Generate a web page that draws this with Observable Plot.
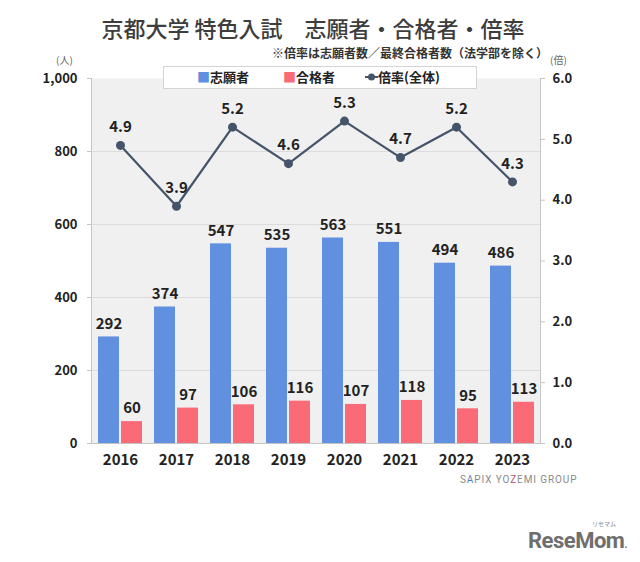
<!DOCTYPE html>
<html><head><meta charset="utf-8">
<script src="https://cdn.jsdelivr.net/npm/d3@7"></script>
<script src="https://cdn.jsdelivr.net/npm/@observablehq/plot@0.6"></script>
<style>
body{margin:0;background:#fff;font-family:"Noto Sans CJK JP","Noto Sans",sans-serif}
#wrap{position:relative;width:640px;height:562px;overflow:hidden}
.abs{position:absolute;white-space:nowrap;line-height:1}
#chart{position:absolute;left:0;top:0}
</style></head><body><div id="wrap">
<div id="chart"></div>
<div class="abs" style="left:0;width:626px;top:16px;text-align:center;font-size:22px;font-weight:500;color:#3d3d3d">京都大学 特色入試　志願者・合格者・倍率</div>
<div class="abs" style="right:92px;top:47px;font-size:12px;font-weight:bold;color:#333">※倍率は志願者数／最終合格者数（法学部を除く）</div>
<div class="abs" style="left:56px;top:55px;font-size:10px;color:#666">(人)</div>
<div class="abs" style="left:550px;top:55px;font-size:10px;color:#666">(倍)</div>
<div class="abs" style="left:163px;top:66px;width:312px;height:21px;background:#fff;border:1px solid #d4d4d4"></div>
<div class="abs" style="left:197px;top:70px;font-size:13px;font-weight:bold;color:#222"><span style="color:#6190e0">■</span>志願者</div>
<div class="abs" style="left:283px;top:70px;font-size:13px;font-weight:bold;color:#222"><span style="color:#fb6a77">■</span>合格者</div>
<div class="abs" style="left:365px;top:70px;font-size:13px;font-weight:bold;color:#222"><svg width="13" height="10" style="vertical-align:0px"><line x1="0" y1="5" x2="13" y2="5" stroke="#44546a" stroke-width="2"/><circle cx="6.5" cy="5" r="3.5" fill="#44546a"/></svg>倍率(全体)</div>
<div class="abs" style="left:460px;top:475px;font-size:10px;letter-spacing:0.9px;color:#8a8a8a;font-family:Roboto,sans-serif">S<span style="color:#5a7fc0">A</span>PIX YO<span style="color:#c0506a">Z</span>EMI GROUP</div>
<div class="abs" style="left:592px;top:521px;font-size:6px;color:#888">リセマム</div>
<div class="abs" style="left:528px;top:530px;font-size:22px;font-weight:bold;letter-spacing:-0.5px;color:#6e6e6e;font-family:Roboto,sans-serif">ReseMom<span style="font-size:10px">.</span></div>
</div>
<script>
const years = ["2016","2017","2018","2019","2020","2021","2022","2023"];
const applicants = [292, 374, 547, 535, 563, 551, 494, 486];
const passers = [60, 97, 106, 116, 107, 118, 95, 113];
const ratio = [4.9, 3.9, 5.2, 4.6, 5.3, 4.7, 5.2, 4.3];
const leftTicks = [0, 200, 400, 600, 800, 1000];
const gridTicks = [200, 400, 600, 800];
const rightTicks = [0, 1, 2, 3, 4, 5, 6];
const yMax = 1000, ratioMax = 6;
const k = yMax / ratioMax;

const rows = years.map((y, i) => ({year: y, app: applicants[i], pas: passers[i], ratio: ratio[i]}));

const blue = "#6190e0", red = "#fb6a77", navy = "#44546a", axisGray = "#c4c4c4";

const chart = Plot.plot({
  width: 640,
  height: 562,
  marginLeft: 91,
  marginRight: 100,
  marginTop: 78,
  marginBottom: 119,
  style: {fontFamily: '"Noto Sans CJK JP", sans-serif', background: "transparent", color: "#222"},
  x: {type: "band", domain: years, padding: 0, label: null},
  y: {domain: [0, yMax], label: null},
  marks: [
    Plot.frame({fill: "#f0f0f0", stroke: null}),
    Plot.gridY(gridTicks, {stroke: "#dcdcdc", strokeOpacity: 1}),
    Plot.barY(rows, {x: "year", y: "app", fill: blue, insetLeft: 6, insetRight: 29}),
    Plot.barY(rows, {x: "year", y: "pas", fill: red, insetLeft: 29, insetRight: 6}),
    Plot.text(rows, {x: "year", y: "app", text: d => String(d.app), dx: -11.5, dy: -13, fontSize: 15, fontWeight: "bold", fill: "#222"}),
    Plot.text(rows, {x: "year", y: "pas", text: d => String(d.pas), dx: 11.5, dy: -13, fontSize: 15, fontWeight: "bold", fill: "#222"}),
    Plot.line(rows, {x: "year", y: d => d.ratio * k, stroke: navy, strokeWidth: 2.2}),
    Plot.dot(rows, {x: "year", y: d => d.ratio * k, r: 4.5, fill: navy}),
    Plot.text(rows, {x: "year", y: d => d.ratio * k, text: d => d.ratio.toFixed(1), dy: -18, fontSize: 15, fontWeight: "bold", fill: "#222"}),
    Plot.ruleY([0], {stroke: axisGray, strokeWidth: 1.2}),
    Plot.frame({anchor: "left", stroke: axisGray}),
    Plot.frame({anchor: "right", stroke: axisGray}),
    Plot.axisY(leftTicks, {anchor: "left", tickSize: 4, tickPadding: 10, stroke: axisGray, fill: "#222", fontSize: 13, fontWeight: "bold", tickFormat: d => d3.format(",")(d), label: null}),
    Plot.axisY(rightTicks.map(v => v * k), {anchor: "right", tickSize: 4, tickPadding: 8, stroke: axisGray, fill: "#222", fontSize: 13, fontWeight: "bold", tickFormat: d => (d / k).toFixed(1), label: null}),
    Plot.axisX({anchor: "bottom", tickSize: 0, tickPadding: 11, fill: "#222", fontSize: 15, fontWeight: "bold", label: null})
  ]
});
document.getElementById("chart").appendChild(chart);
</script>
</body></html>
